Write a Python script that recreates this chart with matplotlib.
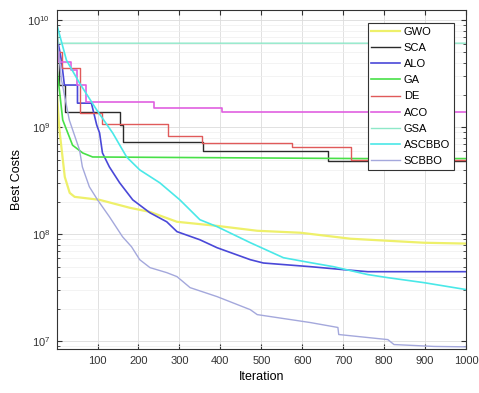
import matplotlib.pyplot as plt
from matplotlib.ticker import LogLocator, NullFormatter

plt.rcParams["font.family"] = ["Liberation Sans", "DejaVu Sans"]
plt.rcParams["mathtext.fontset"] = "custom"
plt.rcParams["mathtext.rm"] = "Liberation Sans"

# convergence history (iteration, best cost) for each algorithm
gwo_it = [1, 7, 20, 32, 44, 105, 179, 228, 294, 392, 490, 596, 718, 897, 1000]
gwo_cost = [2.0e9, 9.4e8, 3.44e8, 2.44e8, 2.24e8, 2.1e8, 1.77e8, 1.62e8, 1.31e8,
            1.2e8, 1.08e8, 1.035e8, 9.1e7, 8.35e7, 8.2e7]

sca_it = [1, 5, 20, 155, 162, 357, 664, 1000]
sca_cost = [5.0e9, 2.5e9, 1.39e9, 1.05e9, 7.3e8, 6.0e8, 4.85e8, 4.85e8]

alo_it = [1, 12, 19, 51, 51, 85, 98, 105, 112, 129, 154, 186, 228, 269, 294, 350,
          392, 473, 505, 620, 701, 760, 1000]
alo_cost = [7.0e9, 4.2e9, 2.48e9, 2.48e9, 1.68e9, 1.68e9, 1.05e9, 8.85e8, 5.76e8,
            4.26e8, 3.03e8, 2.1e8, 1.59e8, 1.31e8, 1.06e8, 8.9e7, 7.5e7, 5.8e7,
            5.4e7, 4.99e7, 4.68e7, 4.48e7, 4.48e7]

ga_it = [1, 7, 15, 39, 64, 88, 750, 1000]
ga_cost = [3.5e9, 2.2e9, 1.17e9, 6.8e8, 5.75e8, 5.28e8, 5.1e8, 5.1e8]

de_it = [1, 12, 56, 112, 272, 356, 576, 718, 1000]
de_cost = [5.0e9, 3.57e9, 1.36e9, 1.07e9, 8.3e8, 7.1e8, 6.55e8, 4.95e8, 4.95e8]

aco_it = [1, 7, 36, 49, 73, 238, 404, 504, 1000]
aco_cost = [5.0e9, 4.07e9, 3.42e9, 2.48e9, 1.72e9, 1.51e9, 1.39e9, 1.39e9, 1.39e9]

gsa_it = [1, 4, 1000]
gsa_cost = [1.0e10, 6.1e9, 6.1e9]

ascbbo_it = [1, 24, 56, 98, 137, 171, 203, 252, 301, 350, 392, 473, 554, 620, 676,
             760, 809, 897, 1000]
ascbbo_cost = [9.0e9, 4.24e9, 2.59e9, 1.45e9, 8.85e8, 5.28e8, 4.0e8, 3.03e8, 2.1e8,
               1.37e8, 1.18e8, 8.36e7, 6.05e7, 5.44e7, 4.99e7, 4.21e7, 3.94e7,
               3.54e7, 3.05e7]

scbbo_it = [1, 12, 31, 56, 63, 80, 100, 129, 161, 183, 203, 228, 269, 294, 326, 392,
            473, 490, 620, 687, 689, 809, 824, 922, 1000]
scbbo_cost = [7.0e9, 2.76e9, 1.17e9, 6.14e8, 4.26e8, 2.78e8, 2.1e8, 1.46e8, 9.5e7,
              7.66e7, 5.8e7, 4.89e7, 4.39e7, 4.03e7, 3.18e7, 2.62e7, 1.98e7, 1.78e7,
              1.5e7, 1.35e7, 1.16e7, 1.04e7, 9.35e6, 8.98e6, 8.9e6]

series = [
    ("GWO", gwo_it, gwo_cost, "#eef06a", 1.6, "default"),
    ("SCA", sca_it, sca_cost, "#2a2a2a", 1.0, "steps-post"),
    ("ALO", alo_it, alo_cost, "#4a48d8", 1.2, "default"),
    ("GA", ga_it, ga_cost, "#48e048", 1.2, "default"),
    ("DE", de_it, de_cost, "#e05a5a", 1.0, "steps-post"),
    ("ACO", aco_it, aco_cost, "#e060e0", 1.2, "steps-post"),
    ("GSA", gsa_it, gsa_cost, "#8ee8c8", 1.0, "default"),
    ("ASCBBO", ascbbo_it, ascbbo_cost, "#4ae8e8", 1.2, "default"),
    ("SCBBO", scbbo_it, scbbo_cost, "#a4a8dc", 1.0, "default"),
]

fig = plt.figure(figsize=(4.79, 3.93), dpi=100)
ax = fig.add_axes([0.119, 0.112, 0.854, 0.863])

for name, it, cost, color, lw, ds in series:
    ax.plot(it, cost, color=color, lw=lw, drawstyle=ds, label=name)

ax.set_yscale("log")
ax.set_xlim(1, 1000)
ax.set_ylim(8.5e6, 1.25e10)
ax.set_xticks(range(100, 1001, 100))
ax.yaxis.set_major_locator(LogLocator(base=10, numticks=10))
ax.yaxis.set_minor_locator(LogLocator(base=10, subs=range(2, 10), numticks=20))
ax.yaxis.set_minor_formatter(NullFormatter())

ax.grid(True, which="major", color="#dcdcdc", lw=0.6)
ax.grid(True, which="minor", axis="y", color="#eeeeee", lw=0.5)
ax.tick_params(direction="in", which="both", top=True, right=True,
               labelsize=8, colors="#333333", pad=5)
for sp in ax.spines.values():
    sp.set_color("#333333")
    sp.set_linewidth(0.8)

ax.set_xlabel("Iteration", fontsize=9, labelpad=4)
ax.set_ylabel("Best Costs", fontsize=9, labelpad=3)

leg = ax.legend(loc="upper right", bbox_to_anchor=(0.97, 0.962), fontsize=8,
                fancybox=False, framealpha=1, edgecolor="#333333",
                handlelength=2.6, handletextpad=0.3, labelspacing=0.56,
                borderpad=0.35, borderaxespad=0)
leg.get_frame().set_linewidth(0.8)

fig.savefig("out.png", dpi=100)
